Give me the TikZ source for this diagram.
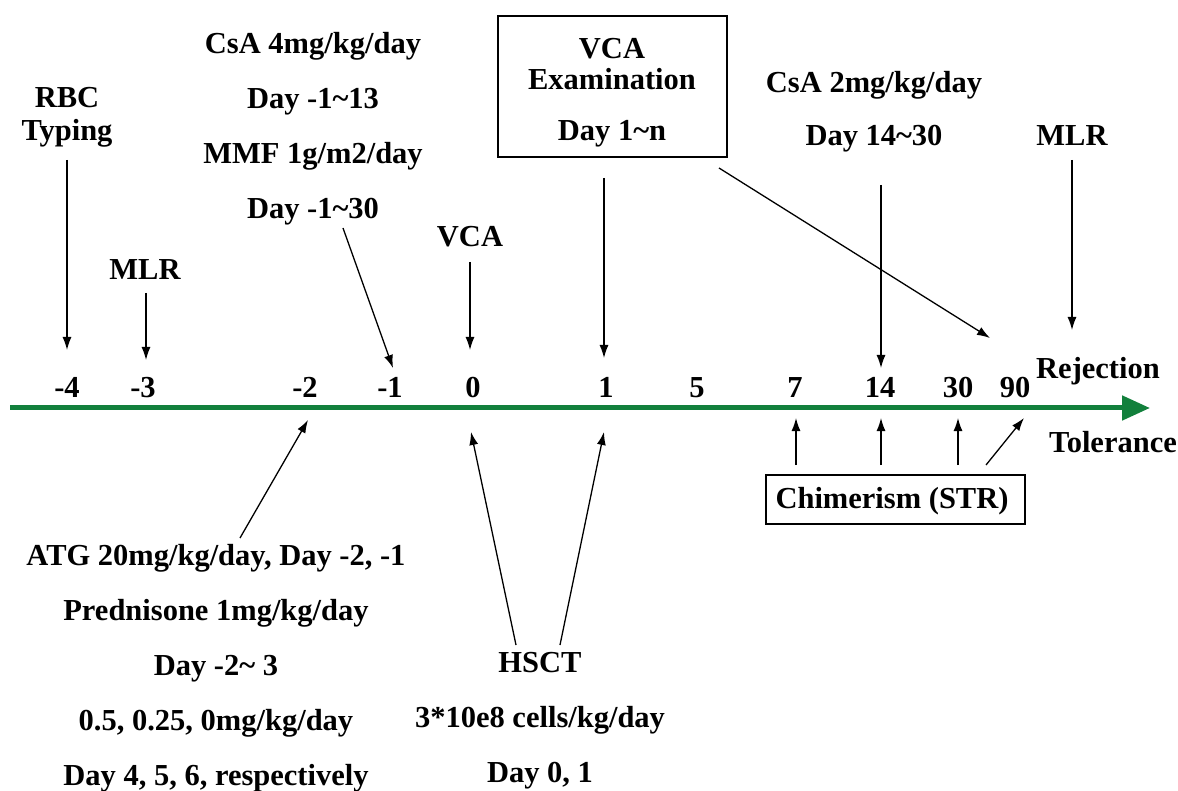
\documentclass[tikz,border=0pt]{standalone}
\usepackage{fontspec}
\setmainfont{Liberation Serif}
\usetikzlibrary{arrows.meta}
\definecolor{axisgreen}{RGB}{18,128,60}
\tikzset{
  lbl/.style={font=\bfseries\fontsize{30.5}{33}\selectfont, inner sep=0pt, align=center},
  blk/.style={font=\bfseries\fontsize{30.5}{55}\selectfont, inner sep=0pt, align=center},
  tick/.style={font=\bfseries\fontsize{30.5}{33}\selectfont, inner sep=0pt, anchor=base},
  arr/.style={line width=1.3pt, -{Latex[length=13pt,width=9pt]}},
  boxed/.style={draw, line width=1.2pt}
}
\begin{document}
\begin{tikzpicture}[x=1pt,y=-1pt]
\useasboundingbox (0,0) rectangle (1178,791);
% axis
\coordinate (axL) at (10,408);
\coordinate (axR) at (1150,408);
\draw[axisgreen, line width=5pt, -{Triangle[length=28pt,width=24pt]}] (axL) -- (axR);
% ticks
\node[tick] (tm4) at (67,398) {-4};
\node[tick] (tm3) at (143,398) {-3};
\node[tick] (tm2) at (305,398) {-2};
\node[tick] (tm1) at (390,398) {-1};
\node[tick] (t0) at (473,398) {0};
\node[tick] (t1) at (606,398) {1};
\node[tick] (t5) at (697,398) {5};
\node[tick] (t7) at (795,398) {7};
\node[tick] (t14) at (880,398) {14};
\node[tick] (t30) at (958,398) {30};
\node[tick] (t90) at (1015,398) {90};
\node[lbl, anchor=base] (rej) at (1098,379) {Rejection};
\node[lbl, anchor=base] (tol) at (1113,452) {Tolerance};
% targets
\coordinate (pm4) at (67,350);
\coordinate (pm3) at (146,360);
\coordinate (pm1) at (393,368);
\coordinate (p0) at (470,350);
\coordinate (p1) at (604,358);
\coordinate (p90a) at (990,338);
\coordinate (p14) at (881,368);
\coordinate (prej) at (1072,330);
\coordinate (bm2) at (308,420);
\coordinate (b0) at (471,432);
\coordinate (b1) at (604,432);
\coordinate (b7) at (796,418);
\coordinate (b14) at (881,418);
\coordinate (b30) at (958,418);
\coordinate (b90) at (1024,418);
% top labels
\node[lbl] (rbc) at (67,117) {RBC\\Typing};
\node[lbl] (mlr1) at (145,270) {MLR};
\node[blk] (csa) at (313,129) {CsA 4mg/kg/day\\Day -1\textasciitilde13\\MMF 1g/m2/day\\Day -1\textasciitilde30};
\node[lbl] (vca) at (470,237) {VCA};
\node[boxed, minimum width=229pt, minimum height=141pt] (exbox) at (612.5,86.5) {};
\node[lbl, font=\bfseries\fontsize{30.5}{31}\selectfont] (ex1) at (612,64) {VCA\\Examination};
\node[lbl] (ex2) at (612,134) {Day 1\textasciitilde n};
\node[blk, font=\bfseries\fontsize{30.5}{53}\selectfont] (csa2) at (874,112) {CsA 2mg/kg/day\\Day 14\textasciitilde30};
\node[lbl] (mlr2) at (1072,136) {MLR};
% bottom labels
\node[boxed, minimum width=259pt, minimum height=49pt] (chim) at (895.5,499.5) {};
\node[lbl] (chimt) at (892,501) {Chimerism (STR)};
\node[blk] (atg) at (216,668) {ATG 20mg/kg/day, Day -2, -1\\Prednisone 1mg/kg/day\\Day -2\textasciitilde\ 3\\0.5, 0.25, 0mg/kg/day\\Day 4, 5, 6, respectively};
\node[blk] (hsct) at (540,721) {HSCT\\3*10e8 cells/kg/day\\Day 0, 1};
% arrows
\coordinate (s-rbc) at (67,160);
\coordinate (s-mlr1) at (146,293);
\coordinate (s-csa) at (343,228);
\coordinate (s-vca) at (470,262);
\coordinate (s-ex) at (604,178);
\coordinate (s-exd) at (719,168);
\coordinate (s-csa2) at (881,185);
\coordinate (s-mlr2) at (1072,160);
\coordinate (s-atg) at (240,538);
\coordinate (s-h0) at (516,645);
\coordinate (s-h1) at (560,645);
\coordinate (s-c7) at (796,465);
\coordinate (s-c14) at (881,465);
\coordinate (s-c30) at (958,465);
\coordinate (s-c90) at (986,465);
\draw[arr] (s-rbc) -- (pm4);
\draw[arr] (s-mlr1) -- (pm3);
\draw[arr] (s-csa) -- (pm1);
\draw[arr] (s-vca) -- (p0);
\draw[arr] (s-ex) -- (p1);
\draw[arr] (s-exd) -- (p90a);
\draw[arr] (s-csa2) -- (p14);
\draw[arr] (s-mlr2) -- (prej);
\draw[arr] (s-atg) -- (bm2);
\draw[arr] (s-h0) -- (b0);
\draw[arr] (s-h1) -- (b1);
\draw[arr] (s-c7) -- (b7);
\draw[arr] (s-c14) -- (b14);
\draw[arr] (s-c30) -- (b30);
\draw[arr] (s-c90) -- (b90);
\end{tikzpicture}
\end{document}
